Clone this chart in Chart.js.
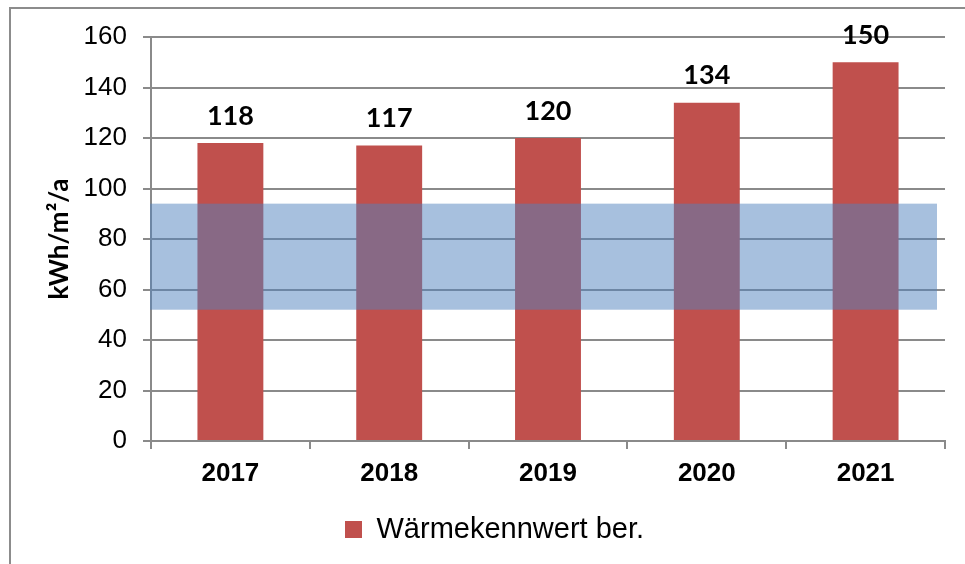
<!DOCTYPE html>
<html lang="de">
<head>
<meta charset="UTF-8">
<title>Wärmekennwert</title>
<style>
    body { margin: 0; background: #fff; }
    #wrap { position: relative; width: 965px; height: 564px; overflow: hidden; }
    #frame { position: absolute; left: 9px; top: 7px; width: 1000px; height: 600px; border: 2px solid #8c8c8c; box-sizing: border-box; }
    #chart { position: absolute; left: 0; top: 0; }
</style>
</head>
<body>
<div id="wrap">
    <div id="frame"></div>
    <canvas id="chart" width="965" height="564"></canvas>
</div>

<script src="https://cdn.jsdelivr.net/npm/chart.js"></script>
<script>
    // values
    const years = ['2017', '2018', '2019', '2020', '2021'];
    const heatValues = [118, 117, 120, 134, 150];
    const targetBand = [52, 94]; // blue range, kWh/m²/a
    const yTicks = [0, 20, 40, 60, 80, 100, 120, 140, 160];

    const grey = '#8a8a8a';

    // blue band drawn over the bars, then the value labels
    const overlay = {
        id: 'overlay',
        afterDatasetsDraw(chart) {
            const ctx = chart.ctx;
            const area = chart.chartArea;
            const y = chart.scales.y;
            const top = y.getPixelForValue(targetBand[1]);
            const bottom = y.getPixelForValue(targetBand[0]);
            ctx.save();
            ctx.fillStyle = 'rgba(79,129,189,0.5)';
            ctx.fillRect(area.left - 1, top, area.right - area.left - 7, bottom - top);

            ctx.fillStyle = '#000';
            ctx.font = 'bold 27px Lato';
            ctx.textAlign = 'center';
            ctx.textBaseline = 'middle';
            chart.getDatasetMeta(0).data.forEach((bar, i) => {
                ctx.fillText(heatValues[i], bar.x, bar.y - 27);
            });
            ctx.restore();
        }
    };

    new Chart(document.getElementById('chart'), {
        type: 'bar',
        data: {
            labels: years,
            datasets: [{
                label: 'Wärmekennwert ber.',
                data: heatValues,
                backgroundColor: '#c0504d',
                barPercentage: 0.83,
                categoryPercentage: 0.5
            }]
        },
        options: {
            responsive: false,
            animation: false,
            layout: { padding: { left: 44, right: 20, top: 37, bottom: 10 } },
            plugins: {
                tooltip: { enabled: false },
                legend: {
                    position: 'bottom',
                    labels: {
                        boxWidth: 17,
                        boxHeight: 17,
                        padding: 10,
                        color: '#000',
                        font: { family: 'Liberation Sans', size: 29 }
                    }
                }
            },
            scales: {
                x: {
                    grid: { display: true, drawOnChartArea: false, drawTicks: true, tickLength: 8, color: grey, lineWidth: 2 },
                    border: { color: grey, width: 2 },
                    ticks: { color: '#000', padding: 9, font: { family: 'Liberation Sans', size: 26, weight: 'bold' } },
                    afterFit(scale) { scale.height = 64; }
                },
                y: {
                    min: 0,
                    max: 160,
                    afterBuildTicks(scale) { scale.ticks = yTicks.map(v => ({ value: v })); },
                    grid: { color: grey, lineWidth: 2, tickLength: 8 },
                    border: { color: grey, width: 2 },
                    ticks: { color: '#000', padding: 16, font: { family: 'Liberation Sans', size: 26 } },
                    title: {
                        display: true,
                        text: 'kWh/m²/a',
                        color: '#000',
                        padding: { top: 0, bottom: 0 },
                        font: { family: 'Lato', size: 26, weight: 'bold' }
                    },
                    afterFit(scale) { scale.width = 107; }
                }
            }
        },
        plugins: [overlay]
    });
</script>
</body>
</html>
